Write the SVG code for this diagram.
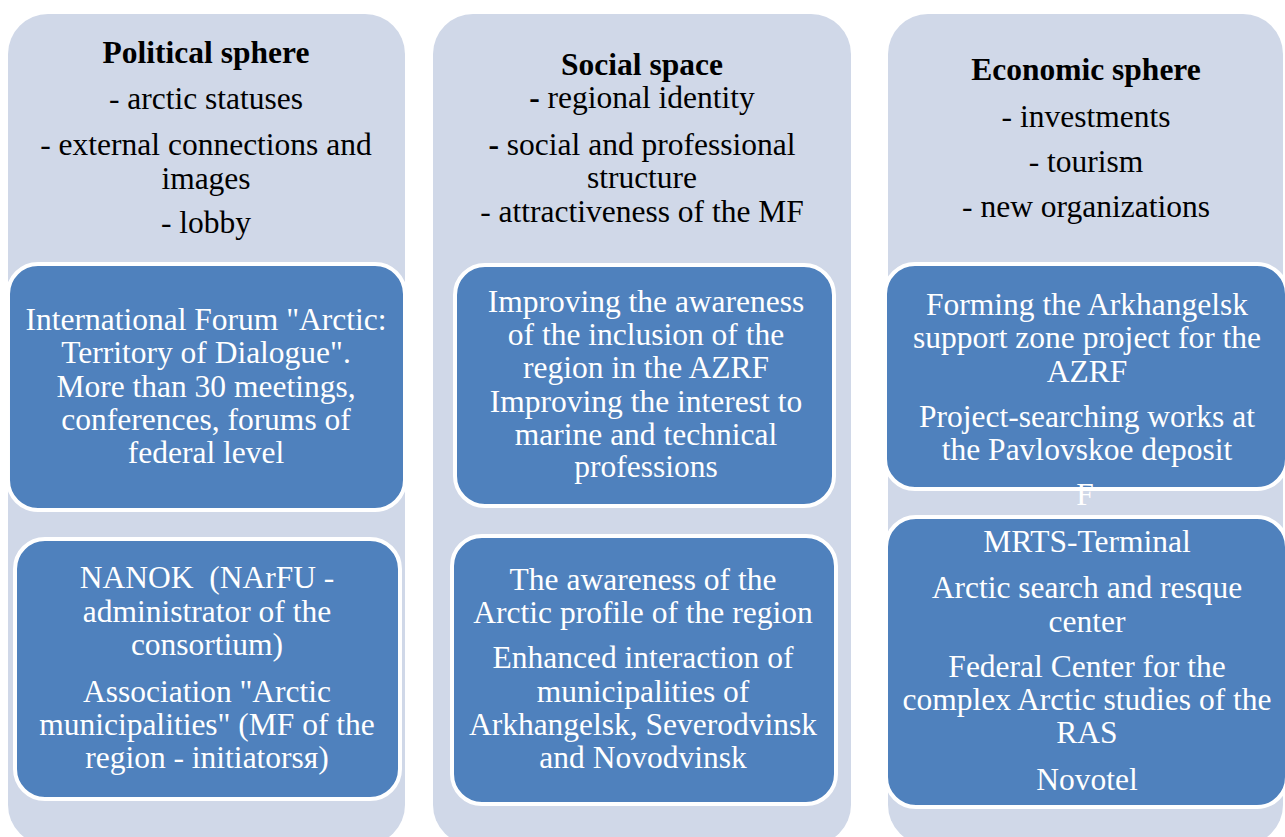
<svg xmlns="http://www.w3.org/2000/svg" width="1285" height="837" viewBox="0 0 1285 837">
<style>
.col{fill:#D0D8E8;}
.box{fill:#4F81BD;stroke:#FFFFFF;stroke-width:4;}
.h{fill:#000000;}
.b{font-weight:bold;}
.w{fill:#FFFFFF;}
</style>
<rect width="1285" height="837" fill="#FFFFFF"/>
<g font-family="Liberation Serif, Times New Roman, serif" font-size="31.5" text-anchor="middle">
<g id="political">
<rect class="col" x="8" y="14" width="397" height="831" rx="40"/>
<text class="h b" x="206" y="63">Political sphere</text>
<text class="h" x="206" y="109">- arctic statuses</text>
<text class="h" x="206" y="155">- external connections and</text>
<text class="h" x="206" y="189">images</text>
<text class="h" x="206" y="233">- lobby</text>
</g>
<g id="political-box1">
<rect class="box" x="8" y="264" width="397" height="246" rx="30"/>
<text class="w" x="206" y="330">International Forum "Arctic:</text>
<text class="w" x="206" y="363">Territory of Dialogue".</text>
<text class="w" x="206" y="397">More than 30 meetings,</text>
<text class="w" x="206" y="430">conferences, forums of</text>
<text class="w" x="206" y="463">federal level</text>
</g>
<g id="political-box2">
<rect class="box" x="15" y="539" width="385" height="260" rx="30"/>
<text class="w" x="207" y="588" xml:space="preserve">NANOK  (NArFU -</text>
<text class="w" x="207" y="622">administrator of the</text>
<text class="w" x="207" y="655">consortium)</text>
<text class="w" x="207" y="702">Association "Arctic</text>
<text class="w" x="207" y="735">municipalities" (MF of the</text>
<text class="w" x="207" y="768">region - initiatorsя)</text>
</g>
<g id="social">
<rect class="col" x="433" y="14" width="418" height="831" rx="40"/>
<text class="h b" x="642" y="75">Social space</text>
<text class="h" x="642" y="108"><tspan class="b">-</tspan> regional identity</text>
<text class="h" x="642" y="155"><tspan class="b">-</tspan> social and professional</text>
<text class="h" x="642" y="188">structure</text>
<text class="h" x="642" y="222">- attractiveness of the MF</text>
</g>
<g id="social-box1">
<rect class="box" x="455" y="265" width="379" height="241" rx="30"/>
<text class="w" x="646" y="312">Improving the awareness</text>
<text class="w" x="646" y="345">of the inclusion of the</text>
<text class="w" x="646" y="378">region in the AZRF</text>
<text class="w" x="646" y="412">Improving the interest to</text>
<text class="w" x="646" y="445">marine and technical</text>
<text class="w" x="646" y="477">professions</text>
</g>
<g id="social-box2">
<rect class="box" x="452" y="536" width="384" height="268" rx="30"/>
<text class="w" x="643" y="590">The awareness of the</text>
<text class="w" x="643" y="623">Arctic profile of the region</text>
<text class="w" x="643" y="668">Enhanced interaction of</text>
<text class="w" x="643" y="702">municipalities of</text>
<text class="w" x="643" y="735">Arkhangelsk, Severodvinsk</text>
<text class="w" x="643" y="768">and Novodvinsk</text>
</g>
<g id="economic">
<rect class="col" x="888" y="14" width="395" height="831" rx="40"/>
<text class="h b" x="1086" y="80">Economic sphere</text>
<text class="h" x="1086" y="127">- investments</text>
<text class="h" x="1086" y="172">- tourism</text>
<text class="h" x="1086" y="217">- new organizations</text>
</g>
<g id="economic-box1">
<rect class="box" x="885" y="264" width="402" height="225" rx="30"/>
<text class="w" x="1087" y="315">Forming the Arkhangelsk</text>
<text class="w" x="1087" y="348">support zone project for the</text>
<text class="w" x="1087" y="382">AZRF</text>
<text class="w" x="1087" y="427">Project-searching works at</text>
<text class="w" x="1087" y="460">the Pavlovskoe deposit</text>
</g>
<g id="economic-box2">
<rect class="box" x="886" y="517" width="401" height="290" rx="30"/>
<text class="w" x="1087" y="552">MRTS-Terminal</text>
<text class="w" x="1087" y="598">Arctic search and resque</text>
<text class="w" x="1087" y="632">center</text>
<text class="w" x="1087" y="677">Federal Center for the</text>
<text class="w" x="1087" y="710">complex Arctic studies of the</text>
<text class="w" x="1087" y="743">RAS</text>
<text class="w" x="1087" y="790">Novotel</text>
</g>
<text class="w" x="1085" y="505">F</text>
</g>
<g id="connectors"/>
</svg>
